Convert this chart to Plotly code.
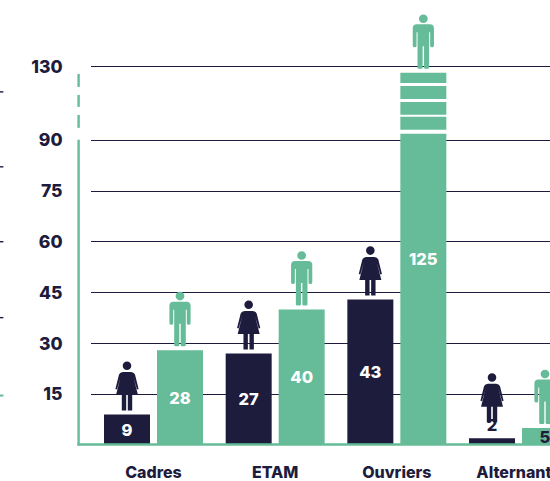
import numpy as np
import plotly.graph_objects as go

categories = ["Cadres", "ETAM", "Ouvriers", "Alternants"]
femmes = [9, 27, 43, 2]
hommes = [28, 40, 125, 5]
y_ticks = [15, 30, 45, 60, 75, 90, 130]

DARK = "#1E1C3D"
GREEN = "#66BC98"
FONT = "Inter"
W, H = 550, 481
PX_PER_UNIT = 3.39
ZERO_PY = 445.5
LEFT = 91
# the axis is broken above 90: value -> height above the break, in axis units
BREAK_VALUES = [90, 125, 130]
BREAK_HEIGHTS = [90, 90 + 67.5 / PX_PER_UNIT, 90 + 73.5 / PX_PER_UNIT]


def disp(v):
    return float(np.interp(v, BREAK_VALUES, BREAK_HEIGHTS)) if v > 90 else v


def from_py(py):
    return (ZERO_PY - py) / PX_PER_UNIT


def px(x):
    return (x - LEFT) / (W - LEFT)


def py(y):
    return 1 - y / ZERO_PY


WOMAN = ("M-2.2,0 L-5.2,0 L-5.2,15.5 L-11,15.5 L-6.5,33 L-10,21 L-11.6,21.5 L-8,36 "
         "Q-7,38.3 -4,38.5 L4,38.5 Q7,38.3 8,36 L11.6,21.5 L10,21 L6.5,33 L11,15.5 "
         "L5.2,15.5 L5.2,0 L2,0 L0.8,0 L0.8,15.5 L-0.8,15.5 L-0.8,0 Z "
         "M0,40.5 C2.4,40.5 4.3,42.4 4.3,44.8 C4.3,47.2 2.4,49.1 0,49.1 "
         "C-2.4,49.1 -4.3,47.2 -4.3,44.8 C-4.3,42.4 -2.4,40.5 0,40.5 Z")
MAN = ("M-5.8,1 Q-5.8,0 -4.5,0 L-2,0 Q-0.7,0 -0.7,1 L-0.7,22.5 L0.7,22.5 L0.7,1 Q0.7,0 2,0 "
       "L4.5,0 Q5.8,0 5.8,1 L5.8,36.5 L6.8,36.5 L6.8,23 Q6.8,21.5 8.6,21.5 Q10.6,21.5 10.6,23 "
       "L10.6,40.5 Q10.6,44.5 6.5,44.5 L-6.5,44.5 Q-10.6,44.5 -10.6,40.5 L-10.6,23 "
       "Q-10.6,21.5 -8.6,21.5 Q-6.8,21.5 -6.8,23 L-6.8,36.5 L-5.8,36.5 Z "
       "M0,45.8 C2.4,45.8 4.4,47.8 4.4,50.1 C4.4,52.5 2.4,54.4 0,54.4 "
       "C-2.4,54.4 -4.4,52.5 -4.4,50.1 C-4.4,47.8 -2.4,45.8 0,45.8 Z")


def icon(path, color, cat_idx, side, value, lift):
    return dict(type="path", path=path, fillcolor=color, line_width=0, layer="above",
                xref="x", yref="y", xsizemode="pixel", ysizemode="pixel",
                xanchor=cat_idx + side * 26.5 / 121.67, yanchor=disp(value) + lift / PX_PER_UNIT)


fig = go.Figure()
fig.add_bar(x=list(range(4)), y=[disp(v) for v in femmes], marker_color=DARK, marker_line_width=0,
            text=[str(v) for v in femmes], textposition=["inside", "inside", "inside", "outside"],
            insidetextanchor="middle", constraintext="none", textangle=0, cliponaxis=False,
            textfont=dict(family=FONT, size=16.5, weight=800,
                          color=["white", "white", "white", DARK]),
            hoverinfo="skip")
fig.add_bar(x=list(range(4)), y=[disp(v) for v in hommes], marker_color=GREEN, marker_line_width=0,
            text=[str(v) for v in hommes], textposition="inside",
            insidetextanchor="middle", constraintext="none", textangle=0, cliponaxis=False,
            textfont=dict(family=FONT, size=16.5, weight=800,
                          color=["white", "white", "white", DARK]),
            hoverinfo="skip")

shapes = []
for i, (f, m) in enumerate(zip(femmes, hommes)):
    shapes.append(icon(WOMAN, DARK, i, -1, f, 16 if f < 5 else 4))
    shapes.append(icon(MAN, GREEN, i, 1, m, 4))

# white strips across the tall bar, marking the break
for top, bottom in [(83, 86), (99, 102), (115, 117), (130, 134)]:
    shapes.append(dict(type="rect", xref="x", yref="y", x0=2.02, x1=2.415,
                       y0=from_py(bottom), y1=from_py(top), fillcolor="white",
                       line_width=0, layer="above"))

# left axis line, dashed over the break, and the base line
for top, bottom in [(74, 87), (95, 107), (115, 128), (140, 446)]:
    shapes.append(dict(type="line", xref="paper", yref="paper", x0=px(78.6), x1=px(78.6),
                       y0=py(bottom), y1=py(top), line=dict(color=GREEN, width=2.4), layer="above"))
shapes.append(dict(type="line", xref="paper", yref="paper", x0=px(77.4), x1=1,
                   y0=py(445), y1=py(445), line=dict(color=GREEN, width=2.6), layer="above"))

# cropped ticks of a neighbouring chart at the left edge
for y, c in [(92, DARK), (167, DARK), (242, DARK), (318, DARK), (396, GREEN)]:
    shapes.append(dict(type="line", xref="paper", yref="paper", x0=px(0), x1=px(3.4),
                       y0=py(y), y1=py(y), line=dict(color=c, width=1.4 if c == DARK else 2),
                       layer="above"))

fig.update_layout(
    width=W, height=H, autosize=False,
    margin=dict(l=LEFT, r=0, t=0, b=H - ZERO_PY, pad=0),
    paper_bgcolor="white", plot_bgcolor="white",
    barmode="group", bargap=0.129, bargroupgap=0.132,
    showlegend=False, shapes=shapes,
    xaxis=dict(tickmode="array", tickvals=list(range(4)), ticktext=categories,
               range=[-(153.5 - LEFT) / 121.67, (W - 153.5) / 121.67],
               automargin=False,
               showgrid=False, zeroline=False, showline=False,
               ticks="outside", ticklen=13, tickcolor="rgba(0,0,0,0)",
               ticklabeloverflow="allow",
               tickfont=dict(family=FONT, size=16, color=DARK, weight=800)),
    yaxis=dict(tickmode="array", tickvals=[disp(v) for v in y_ticks],
               ticktext=[str(v) for v in y_ticks],
               range=[0, ZERO_PY / PX_PER_UNIT],
               automargin=False,
               showgrid=True, gridcolor=DARK, gridwidth=1.3,
               zeroline=False, showline=False,
               ticks="outside", ticklen=24, tickcolor="rgba(0,0,0,0)",
               tickfont=dict(family=FONT, size=17.5, color=DARK, weight=800)),
)
fig.write_html("out.html", config={"displayModeBar": False},
               post_script="document.documentElement.style.margin='0';document.body.style.margin='0';document.body.style.overflow='hidden';")
